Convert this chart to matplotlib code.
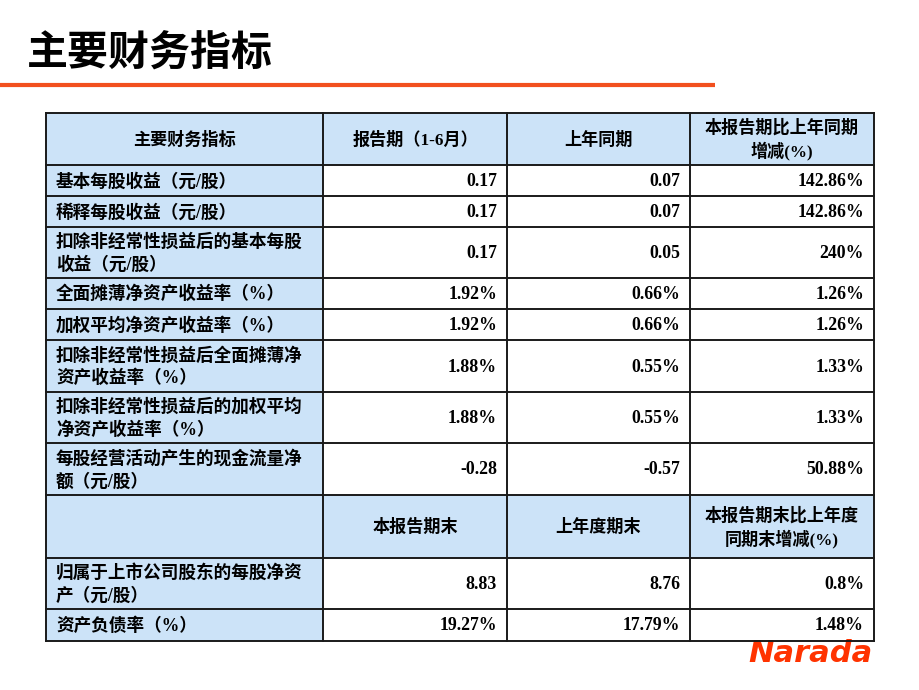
import matplotlib
matplotlib.use("Agg")
import matplotlib.pyplot as plt
from matplotlib.patches import Rectangle

title = "主要财务指标"
header1 = ["主要财务指标", "报告期（1-6月）", "上年同期", "本报告期比上年同期\n增减(%)"]
header2 = ["", "本报告期末", "上年度期末", "本报告期末比上年度\n同期末增减(%)"]

labels1 = ["基本每股收益（元/股）",
           "稀释每股收益（元/股）",
           "扣除非经常性损益后的基本每股\n收益（元/股）",
           "全面摊薄净资产收益率（%）",
           "加权平均净资产收益率（%）",
           "扣除非经常性损益后全面摊薄净\n资产收益率（%）",
           "扣除非经常性损益后的加权平均\n净资产收益率（%）",
           "每股经营活动产生的现金流量净\n额（元/股）"]
current1 = ["0.17", "0.17", "0.17", "1.92%", "1.92%", "1.88%", "1.88%", "-0.28"]
previous1 = ["0.07", "0.07", "0.05", "0.66%", "0.66%", "0.55%", "0.55%", "-0.57"]
change1 = ["142.86%", "142.86%", "240%", "1.26%", "1.26%", "1.33%", "1.33%", "50.88%"]

labels2 = ["归属于上市公司股东的每股净资\n产（元/股）", "资产负债率（%）"]
current2 = ["8.83", "19.27%"]
previous2 = ["8.76", "17.79%"]
change2 = ["0.8%", "1.48%"]

# layout (pixel coordinates)
col_x = [46, 323, 507, 690, 874]
row_y = [113, 165, 196, 227, 278, 309, 340, 392, 443, 495, 558, 609, 641]

BLUE = "#CCE3F8"
FAM = ["Liberation Serif", "Noto Sans CJK SC"]
CJK = ["Noto Sans CJK SC", "DejaVu Sans"]

fig = plt.figure(figsize=(9.2, 6.9), dpi=100)
ax = fig.add_axes([0, 0, 1, 1])
ax.set_xlim(0, 920)
ax.set_ylim(690, 0)
ax.axis("off")

# title
ax.text(27, 54, title, family=CJK, fontsize=29.5, fontweight="black",
        va="center", ha="left", color="black")
ax.plot([0, 715], [85, 85], color="#F2501E", lw=3, solid_capstyle="butt")

rows = []
rows.append(("header", header1))
for l, a, b, c in zip(labels1, current1, previous1, change1):
    rows.append(("data", [l, a, b, c]))
rows.append(("header", header2))
for l, a, b, c in zip(labels2, current2, previous2, change2):
    rows.append(("data", [l, a, b, c]))

for r, (kind, cells) in enumerate(rows):
    y0, y1 = row_y[r], row_y[r + 1]
    ym = (y0 + y1) / 2
    for c in range(4):
        x0, x1 = col_x[c], col_x[c + 1]
        fill = BLUE if (kind == "header" or c == 0) else "white"
        ax.add_patch(Rectangle((x0, y0), x1 - x0, y1 - y0, facecolor=fill,
                               edgecolor="none", zorder=1))
        txt = cells[c]
        if not txt:
            continue
        if kind == "header":
            ax.text((x0 + x1) / 2, ym + 1, txt, family=FAM, fontsize=12.3,
                    fontweight="bold", ha="center", va="center",
                    linespacing=1.35, zorder=3)
        elif c == 0:
            ax.text(x0 + 10, ym + 1, txt, family=FAM, fontsize=12.7,
                    fontweight="bold", ha="left", va="center",
                    linespacing=1.4, zorder=3)
        else:
            ax.text(x1 - 10, ym + 1, txt, family=FAM, fontsize=12.8,
                    fontweight="bold", ha="right", va="center", zorder=3)

# grid lines
for y in row_y:
    ax.plot([col_x[0], col_x[-1]], [y, y], color="#1a1a1a", lw=1.4, zorder=4)
for x in col_x:
    ax.plot([x, x], [row_y[0], row_y[-1]], color="#1a1a1a", lw=1.4, zorder=4)

# logo
ax.text(810, 654, "Narada", family=["DejaVu Sans"],
        fontsize=22, fontweight="bold", fontstyle="italic", color="#FF3300",
        ha="center", va="center")

fig.savefig("out.png", dpi=100)
